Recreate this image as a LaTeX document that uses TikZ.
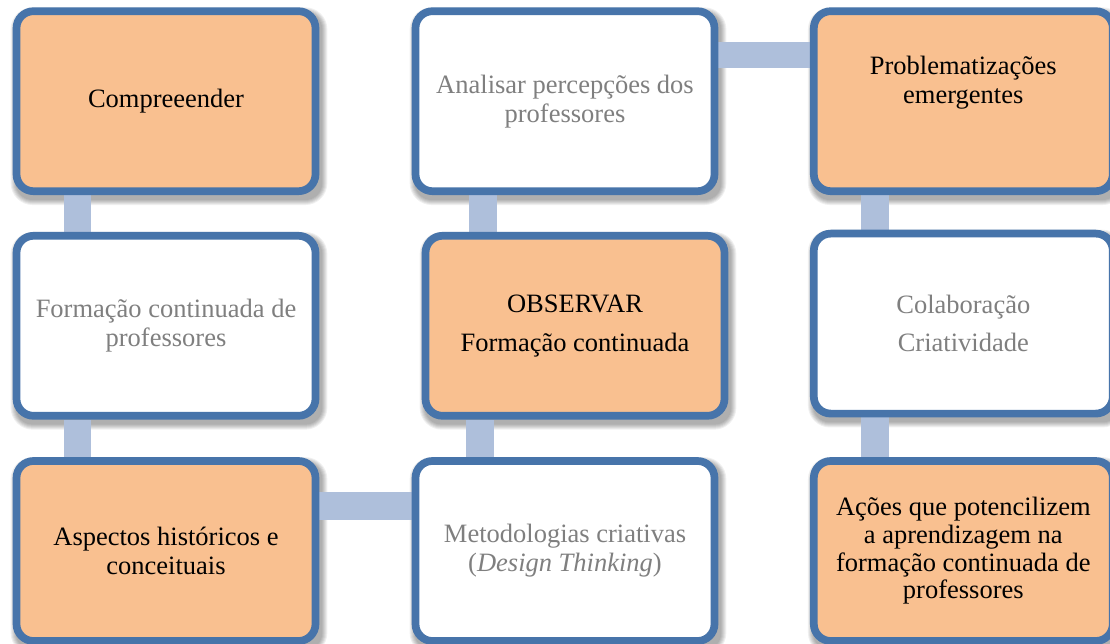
\documentclass[tikz,border=0pt]{standalone}
\usepackage{fontspec}
\setmainfont{Liberation Serif}
\definecolor{frameblue}{HTML}{4774AA}
\definecolor{peach}{HTML}{F9C090}
\definecolor{linkblue}{HTML}{AEBFDB}
\definecolor{softgray}{HTML}{7F7F7F}
\pgfdeclarelayer{paper}
\pgfdeclarelayer{shades}
\pgfdeclarelayer{links}
\pgfsetlayers{paper,shades,links,main}
\tikzset{
  stage/.style={draw=frameblue, line width=7.7pt, rounded corners=17pt,
    minimum width=299pt, minimum height=180pt, align=center, inner sep=0pt,
    font=\fontsize{26.5}{29}\selectfont},
  hot/.style={stage, fill=peach, text=black},
  cool/.style={stage, fill=white, text=softgray},
  caption/.style={align=center, inner sep=0pt, font=\fontsize{26.5}{29}\selectfont},
  link/.style={fill=linkblue},
  haze/.style={fill=black, opacity=0.06},
}
\begin{document}
\begin{tikzpicture}[x=1pt,y=-1pt]
\useasboundingbox (0,0) rectangle (1110,644);
\begin{pgfonlayer}{paper}
  \fill[white] (0,0) rectangle (1110,644);
\end{pgfonlayer}
\clip (0,0) rectangle (1110,644);

% stages of the snake process
\node[hot]  (A) at (166,101.2) {Compreeender};
\node[cool] (B) at (166,325.8) {Formação continuada de\\professores};
\node[hot]  (C) at (166,551) {Aspectos históricos e\\conceituais};
\node[cool] (D) at (565,551) {Metodologias criativas\\(\textit{Design Thinking})};
\node[hot]  (E) at (575,325.8) {OBSERVAR\\[10pt]Formação continuada};
\node[cool] (F) at (565,101.2) {Analisar percepções dos\\professores};
\node[hot]  (G) at (963.3,101.2) {};
\node[caption] (Gtext) at ([yshift=19pt]G.center) {Problematizações\\emergentes};
\node[cool] (H) at (963.3,323.6) {Colaboração\\[9pt]Criatividade};
\node[hot, font=\fontsize{26.5}{27.7}\selectfont] (I) at (963.3,551)
  {Ações que potencilizem\\a aprendizagem na\\formação continuada de\\professores};

% soft drop shadows under the boxes, falling down and to the right
\begin{pgfonlayer}{shades}
  \foreach \n in {A,B,C,D,E,F,G,H,I} {
    \foreach \e in {0,1,2,3,4,5} {
      \pgfmathsetmacro\rc{17+\e}
      \fill[haze, rounded corners=\rc pt]
        ([shift={(-\e+3,\e+5)}]\n.south west) rectangle ([shift={(\e+3,-\e+5)}]\n.north east);
    }
  }
\end{pgfonlayer}

% connecting bars, behind the boxes
\begin{pgfonlayer}{links}
  \fill[link] ([xshift=-102.25pt]A.south) rectangle ([xshift=-74.75pt]A.south |- B.north);
  \fill[link] ([xshift=-102.25pt]B.south) rectangle ([xshift=-74.75pt]B.south |- C.north);
  \fill[link] ([yshift=59pt]C.east) rectangle ([yshift=31pt]C.east -| D.west);
  \fill[link] ([xshift=-109pt]E.south) rectangle ([xshift=-81pt]E.south |- D.north);
  \fill[link] ([xshift=-95.7pt]F.south) rectangle ([xshift=-67.7pt]F.south |- E.north);
  \fill[link] ([yshift=59.2pt]F.east) rectangle ([yshift=33.2pt]F.east -| G.west);
  \fill[link] ([xshift=-102pt]G.south) rectangle ([xshift=-74.5pt]G.south |- H.north);
  \fill[link] ([xshift=-102pt]H.south) rectangle ([xshift=-74.5pt]H.south |- I.north);
\end{pgfonlayer}
\end{tikzpicture}
\end{document}
